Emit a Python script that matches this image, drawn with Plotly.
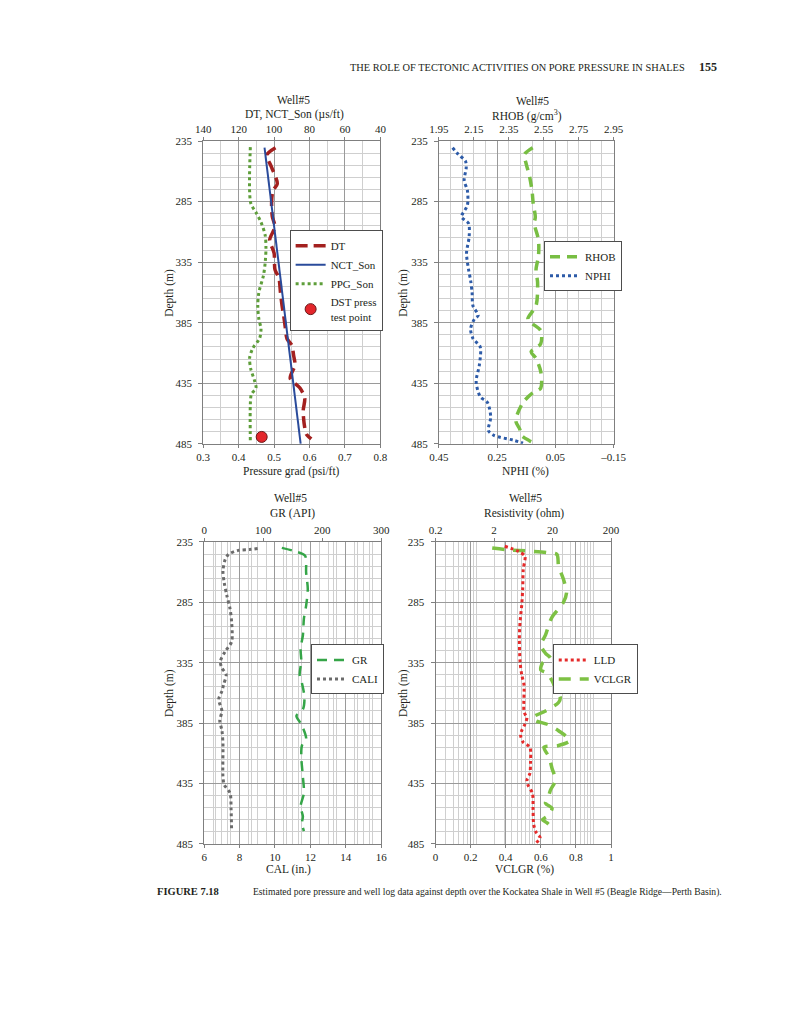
import math
import plotly.graph_objects as go

FONT = "Liberation Serif"
W, H = 791, 1024

# ---------------- data ----------------
# Panel 1 : DT / NCT_Son (top axis, us/ft) and PPG_Son / DST (bottom axis, psi/ft)
dt_depth = [240.4, 246.4, 256.7, 270.3, 275.8, 285.3, 297.5, 305.7, 316.6, 327.5, 341.1, 348, 360, 371, 379,
            388.7, 398.2, 403.6, 411.8, 420, 430.9, 439, 447.2, 458, 471.7, 477, 481]
dt_vals = [99.2, 104.1, 101.4, 98.2, 100.6, 101.4, 101.0, 99.5, 102.5, 100.0, 99.5, 97.3, 96.4, 95.5, 94.6,
           93.7, 92.7, 90.0, 89.0, 88.2, 90.9, 85.4, 82.7, 83.6, 82.7, 81.8, 79.0]
nct_depth = [240.4, 485]
nct_vals = [105.4, 85.0]
ppg_depth = [240, 286, 294, 302, 313, 324, 335, 346, 360, 371, 382, 390, 398, 406, 414, 423, 433, 439, 444, 452, 484]
ppg_vals = [0.433, 0.434, 0.449, 0.463, 0.475, 0.477, 0.475, 0.470, 0.457, 0.454, 0.457, 0.463, 0.459, 0.440,
            0.431, 0.434, 0.445, 0.449, 0.436, 0.433, 0.433]
dst_depth = [479.3]
dst_vals = [0.465]

# Panel 2 : RHOB (top, g/cm3) and NPHI (bottom, reversed)
rhob_depth = [240.4, 246, 254, 263.6, 275.8, 286.7, 297.6, 303, 316.6, 330, 341, 352, 371, 382, 386, 391.5,
              402.4, 409, 414.5, 425.4, 439, 443, 451, 466, 473, 478, 482.4, 485]
rhob_vals = [2.487, 2.44, 2.45, 2.468, 2.483, 2.49, 2.502, 2.496, 2.52, 2.52, 2.506, 2.515, 2.506, 2.459,
             2.487, 2.533, 2.533, 2.478, 2.506, 2.533, 2.533, 2.487, 2.431, 2.39, 2.413, 2.422, 2.468, 2.506]
nphi_depth = [240.5, 246, 251.3, 256.7, 267.6, 275.8, 288, 297.5, 303, 314, 327.5, 341, 350, 360, 371, 379,
              382, 390, 398, 405, 420, 433.7, 446, 451, 463, 474, 478, 482, 484.4]
nphi_vals = [0.403, 0.383, 0.359, 0.356, 0.363, 0.352, 0.352, 0.372, 0.348, 0.346, 0.355, 0.348, 0.341, 0.336,
             0.333, 0.315, 0.328, 0.341, 0.333, 0.308, 0.311, 0.322, 0.308, 0.283, 0.272, 0.280, 0.261, 0.195,
             0.161]

# Panel 3 : GR (top, API) and CALI (bottom, in.)
gr_depth = [239.9, 242.7, 246.5, 260.4, 274, 287.7, 298.6, 312.3, 323.2, 334, 345, 353, 364, 373.7, 379, 386,
            398.2, 403.6, 413, 429.6, 443, 454, 462.3, 467.7, 474.6]
gr_vals = [131.6, 153.5, 171, 172.8, 175.6, 172.8, 169, 167.3, 163.4, 164.6, 161.8, 166.2, 170, 167.3, 156.3,
           164.6, 172.8, 165.7, 164.6, 167.3, 169, 163.4, 167.3, 165.7, 169]
cali_depth = [240.5, 241.3, 242, 245.4, 249.4, 259, 268.5, 279.4, 290.3, 301.2, 317.6, 325.7, 334, 339.4, 344.8,
              353, 358.6, 365.4, 375, 383, 391, 402, 429.3, 436, 443, 456.6, 474.4]
cali_vals = [9.02, 8.56, 7.92, 7.37, 7.19, 7.06, 7.13, 7.28, 7.46, 7.55, 7.55, 7.19, 6.91, 7.0, 7.24, 7.1, 7.0,
             6.82, 7.0, 6.88, 7.0, 7.06, 7.06, 7.13, 7.46, 7.52, 7.55]

# Panel 4 : LLD (top, log ohm) and VCLGR (bottom)
lld_depth = [238.6, 240.5, 242.1, 243.5, 246.8, 257.7, 274, 287.7, 301.3, 315, 334, 345, 353.2, 375, 379, 380.5,
             386, 391.4, 395.5, 401, 405, 418.7, 426.9, 432.3, 436.4, 443.2, 456.8, 469.1, 476, 480, 484]
lld_vals = [3.05, 4.0, 4.9, 5.6, 6.75, 6.32, 6.18, 5.94, 5.57, 5.42, 5.57, 5.94, 6.5, 6.5, 7.0, 7.3, 6.75, 5.94,
            5.7, 6.32, 8.18, 8.4, 8.18, 7.3, 7.6, 9.07, 9.3, 9.53, 10.6, 12.3, 10.6]
vcl_depth = [240, 241.4, 242.7, 244, 245.4, 255, 265.9, 276.8, 285, 290.5, 297.2, 304, 312, 320.5, 327.3, 331.4,
             335.5, 341, 343.6, 350, 356, 364, 368, 375, 380.5, 383.2, 386, 391.4, 399.5, 403.6, 405, 413, 422.6,
             432.3, 440.5, 444.6, 451.5, 455.6, 462.3, 465, 467.7, 473.2]
vcl_vals = [0.323, 0.406, 0.545, 0.646, 0.692, 0.701, 0.729, 0.747, 0.729, 0.701, 0.664, 0.645, 0.627, 0.6,
            0.627, 0.655, 0.609, 0.6, 0.636, 0.664, 0.683, 0.711, 0.701, 0.627, 0.553, 0.572, 0.636, 0.701, 0.766,
            0.701, 0.618, 0.646, 0.664, 0.683, 0.655, 0.646, 0.627, 0.664, 0.636, 0.609, 0.636, 0.673]

depth_ticks = [235, 285, 335, 385, 435, 485]
p_ticks = [0.3, 0.4, 0.5, 0.6, 0.7, 0.8]
dt_ticks = [140, 120, 100, 80, 60, 40]
nphi_ticks = [0.45, 0.25, 0.05, -0.15]
nphi_text = ["0.45", "0.25", "0.05", "\u20130.15"]
rhob_ticks = [1.95, 2.15, 2.35, 2.55, 2.75, 2.95]
cal_ticks = [6, 8, 10, 12, 14, 16]
gr_ticks = [0, 100, 200, 300]
vcl_ticks = [0, 0.2, 0.4, 0.6, 0.8, 1]
vcl_text = ["0", "0.2", "0.4", "0.6", "0.8", "1"]
res_ticks = [0.2, 2, 20, 200]


def X(p):
    return p / W


def Y(p):
    return 1 - p / H


MAJ = "#9a9a9a"
MIN = "#cfcfcf"
AX = "#7f7f7f"
TXT = "#231f20"
TF = dict(family=FONT, size=11, color=TXT)

fig = go.Figure()


def line(x, y, xa, ya, name, color, width, dash, legend, group, shape="spline"):
    fig.add_trace(go.Scatter(x=x, y=y, xaxis=xa, yaxis=ya, name=name, mode="lines",
                             line=dict(color=color, width=width, dash=dash, shape=shape, smoothing=0.8),
                             legend=legend, legendgroup=group, hoverinfo="skip"))


# panel 1
line(dt_vals, dt_depth, "x2", "y", "DT", "#a3201f", 3.5, "12px,6px", "legend", "a")
line(nct_vals, nct_depth, "x2", "y", "NCT_Son", "#2a4b9b", 2, "solid", "legend", "b", shape="linear")
line(ppg_vals, ppg_depth, "x", "y", "PPG_Son", "#5e9e3a", 3, "3px,3px", "legend", "c")
fig.add_trace(go.Scatter(x=dst_vals, y=dst_depth, xaxis="x", yaxis="y", mode="markers",
                         name="DST press<br>test point",
                         marker=dict(size=11, color="#e3262b", line=dict(color="#6b1a1a", width=1)),
                         legend="legend", legendgroup="d", hoverinfo="skip"))
# panel 2
line(rhob_vals, rhob_depth, "x4", "y2", "RHOB", "#78be43", 3.5, "10px,7px", "legend2", "a")
line(nphi_vals, nphi_depth, "x3", "y2", "NPHI", "#2d5ba8", 3, "3px,3px", "legend2", "b")
# panel 3
line(gr_vals, gr_depth, "x6", "y3", "GR", "#35a548", 2.5, "10px,7px", "legend3", "a")
line(cali_vals, cali_depth, "x5", "y3", "CALI", "#6b6b6b", 3, "3px,3px", "legend3", "b")
# panel 4
line(lld_vals, lld_depth, "x8", "y4", "LLD", "#e52a2a", 3, "3px,3px", "legend4", "a")
line(vcl_vals, vcl_depth, "x7", "y4", "VCLGR", "#7dc144", 3.5, "12px,9px", "legend4", "b")


def yax(domain):
    return dict(domain=domain, range=[485, 235], tickvals=depth_ticks, showgrid=True, gridcolor=MAJ,
                minor=dict(showgrid=True, gridcolor=MIN,
                           tickvals=[d for d in range(245, 485, 10) if d not in depth_ticks]),
                showline=True, linecolor=AX, mirror=True, ticks="outside", ticklen=4, tickcolor=AX,
                ticklabelstandoff=4, tickfont=TF, zeroline=False, fixedrange=True)


def xbot(domain, anchor, rng, tv, tt=None, grid=True, minor_vals=None, typ="linear"):
    d = dict(domain=domain, anchor=anchor, range=rng, tickvals=tv, showgrid=grid, gridcolor=MAJ,
             showline=True, linecolor=AX, ticks="outside", ticklen=3, tickcolor=AX, tickfont=TF,
             zeroline=False, fixedrange=True, type=typ)
    if tt is not None:
        d["ticktext"] = tt
    if minor_vals is not None:
        d["minor"] = dict(showgrid=True, gridcolor=MIN, tickvals=minor_vals)
    return d


def xtop(anchor, over, rng, tv, tt=None, grid=False, gridcolor=MIN, minor_vals=None, typ="linear"):
    d = dict(anchor=anchor, overlaying=over, side="top", range=rng, tickvals=tv, showgrid=grid,
             gridcolor=gridcolor, showline=True, linecolor=AX, ticks="outside", ticklen=3, tickcolor=AX,
             tickfont=TF, zeroline=False, fixedrange=True, type=typ)
    if tt is not None:
        d["ticktext"] = tt
    if minor_vals is not None:
        d["minor"] = dict(showgrid=True, gridcolor=MIN, tickvals=minor_vals)
    return d


d1x = [X(199), X(381.5)]
d2x = [X(441.7), X(621.7)]
d3x = [X(200), X(382.3)]
d4x = [X(438.3), X(619)]
dtop = [Y(443), Y(136.7)]
dbot = [Y(847.7), Y(542.3)]

p_minor = [0.35, 0.45, 0.55, 0.65, 0.75]
nphi_minor = [round(0.45 - 0.04 * k, 2) for k in range(1, 15) if k % 5 != 0]
cal_minor = [6 + 0.5 * k for k in range(1, 20) if k % 4 != 0]
gr_minor = [20 * k for k in range(1, 15) if k % 5 != 0]
res_minor = []
for base in [0.1, 1, 10, 100]:
    for k in range(1, 10):
        v = round(base * k, 4)
        if 0.2 < v < 200 and v not in res_ticks:
            res_minor.append(v)

fig.update_layout(
    width=W, height=H, margin=dict(l=0, r=0, t=0, b=0),
    paper_bgcolor="white", plot_bgcolor="white",
    font=dict(family=FONT, color=TXT),
    xaxis=xbot(d1x, "y", [0.3, 0.8], p_ticks, [str(v) for v in p_ticks], minor_vals=p_minor),
    xaxis2=xtop("y", "x", [140, 40], dt_ticks),
    yaxis=yax(dtop),
    xaxis3=xbot(d2x, "y2", [0.45, -0.15], nphi_ticks, nphi_text, minor_vals=nphi_minor),
    xaxis4=xtop("y2", "x3", [1.95, 2.95], rhob_ticks, [f"{v:.2f}" for v in rhob_ticks]),
    yaxis2=yax(dtop) | dict(anchor="x3"),
    xaxis5=xbot(d3x, "y3", [6, 16], cal_ticks, minor_vals=cal_minor),
    xaxis6=xtop("y3", "x5", [0, 300], gr_ticks, grid=False, minor_vals=gr_minor),
    yaxis3=yax(dbot) | dict(anchor="x5"),
    xaxis7=xbot(d4x, "y4", [0, 1], vcl_ticks, vcl_text),
    xaxis8=xtop("y4", "x7", [math.log10(0.2), math.log10(200)], res_ticks, ["0.2", "2", "20", "200"],
                grid=True, gridcolor=MIN, minor_vals=res_minor, typ="log"),
    yaxis4=yax(dbot) | dict(anchor="x7"),
    showlegend=True,
)
fig.layout.yaxis.anchor = "x"

leg = dict(xanchor="left", yanchor="top", bgcolor="white", bordercolor="#4d4d4d", borderwidth=1,
           font=dict(family=FONT, size=11, color=TXT), tracegroupgap=0, traceorder="grouped")
fig.update_layout(
    legend=leg | dict(x=X(288), y=Y(227)),
    legend2=leg | dict(x=X(550), y=Y(238)),
    legend3=leg | dict(x=X(310), y=Y(646)),
    legend4=leg | dict(x=X(559), y=Y(646)),
)

anns = []


def txt(x, y, s, size=11.5, anchor="center", bold=False, angle=0):
    if bold:
        s = "<b>" + s + "</b>"
    anns.append(dict(x=X(x), y=Y(y), xref="paper", yref="paper", text=s, showarrow=False, xanchor=anchor,
                     yanchor="middle", textangle=angle, font=dict(family=FONT, size=size, color=TXT)))


txt(348, 62, "THE ROLE OF TECTONIC ACTIVITIES ON PORE PRESSURE IN SHALES", size=10.4, anchor="left")
txt(708, 62, "155", size=12, anchor="left", bold=True)

txt(292, 95, "Well#5")
txt(293, 110, "DT, NCT_Son (\u00b5s/ft)")
txt(538, 96, "Well#5")
txt(532, 111, "RHOB (g/cm<sup>3</sup>)")
txt(289, 498, "Well#5")
txt(291, 514, "GR (API)")
txt(531, 498, "Well#5")
txt(529, 514, "Resistivity (ohm)")

txt(290, 471, "Pressure grad (psi/ft)")
txt(531, 471, "NPHI (%)")
txt(287, 874, "CAL (in.)")
txt(530, 874, "VCLGR (%)")

txt(164, 290, "Depth (m)", angle=-90)
txt(405, 290, "Depth (m)", angle=-90)
txt(165, 695, "Depth (m)", angle=-90)
txt(406, 695, "Depth (m)", angle=-90)

txt(149, 896, "FIGURE 7.18", size=10.5, anchor="left", bold=True)
txt(248, 896, "Estimated pore pressure and well log data against depth over the Kockatea Shale in Well #5 "
              "(Beagle Ridge\u2014Perth Basin).", size=9.6, anchor="left")

fig.update_layout(annotations=anns)

fig.write_html(
    "out.html",
    config={"displayModeBar": False},
    post_script="document.body.style.margin='0';document.body.style.padding='0';"
                "document.body.style.overflow='hidden';",
)
